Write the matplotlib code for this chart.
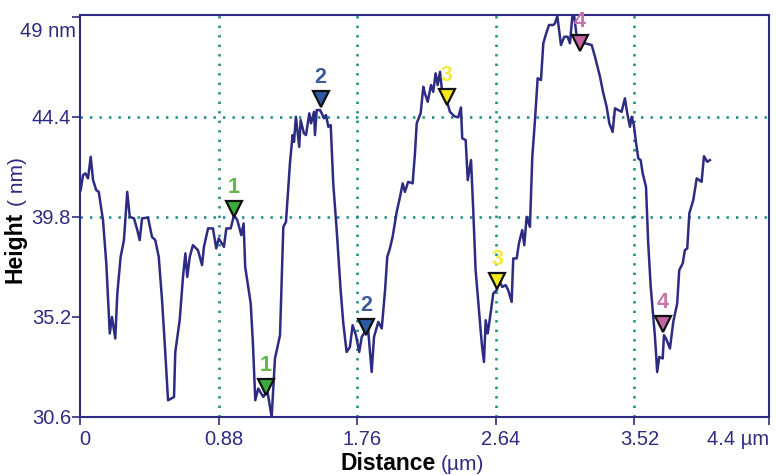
import matplotlib
matplotlib.use("Agg")
import matplotlib.pyplot as plt
import matplotlib.transforms as mtransforms

plt.rcParams['font.family'] = ['Liberation Sans', 'DejaVu Sans']

# height profile
x_um = [0.004, 0.019, 0.034, 0.051, 0.068, 0.083, 0.103, 0.119, 0.146, 0.167,
        0.189, 0.203, 0.224, 0.237, 0.258, 0.279, 0.300, 0.316, 0.343, 0.364,
        0.379, 0.394, 0.432, 0.457, 0.478, 0.500, 0.521, 0.538, 0.559, 0.580,
        0.597, 0.605, 0.633, 0.654, 0.669, 0.681, 0.697, 0.717, 0.749, 0.775,
        0.787, 0.813, 0.844, 0.865, 0.881, 0.914, 0.929, 0.957, 0.978, 0.999,
        1.024, 1.039, 1.049, 1.084, 1.098, 1.113, 1.132, 1.164, 1.189, 1.217,
        1.238, 1.270, 1.291, 1.308, 1.333, 1.350, 1.359, 1.371, 1.392, 1.401,
        1.422, 1.435, 1.456, 1.467, 1.486, 1.492, 1.503, 1.524, 1.535, 1.549,
        1.562, 1.577, 1.592, 1.608, 1.630, 1.655, 1.672, 1.693, 1.714, 1.731,
        1.752, 1.773, 1.789, 1.816, 1.830, 1.852, 1.867, 1.894, 1.916, 1.937,
        1.951, 1.968, 1.985, 2.011, 2.032, 2.049, 2.063, 2.084, 2.112, 2.127,
        2.138, 2.163, 2.180, 2.190, 2.208, 2.229, 2.243, 2.258, 2.271, 2.286,
        2.297, 2.322, 2.349, 2.376, 2.402, 2.419, 2.427, 2.449, 2.462, 2.483,
        2.497, 2.512, 2.533, 2.551, 2.565, 2.576, 2.589, 2.610, 2.624, 2.646,
        2.656, 2.681, 2.703, 2.719, 2.741, 2.751, 2.773, 2.787, 2.808, 2.821,
        2.836, 2.857, 2.872, 2.889, 2.906, 2.927, 2.942, 2.957, 2.978, 3.005,
        3.016, 3.031, 3.054, 3.075, 3.096, 3.111, 3.126, 3.138, 3.154, 3.175,
        3.206, 3.249, 3.270, 3.302, 3.323, 3.344, 3.361, 3.382, 3.397, 3.418,
        3.439, 3.460, 3.475, 3.492, 3.503, 3.517, 3.530, 3.545, 3.560, 3.573,
        3.594, 3.608, 3.624, 3.640, 3.651, 3.665, 3.678, 3.700, 3.708, 3.721,
        3.746, 3.767, 3.792, 3.805, 3.827, 3.841, 3.856, 3.869, 3.894, 3.916,
        3.947, 3.962, 3.983, 4.000]
h_nm = [41.03, 41.72, 41.80, 41.57, 42.56, 41.49, 41.03, 40.95, 39.65, 37.66,
        34.44, 35.20, 34.21, 36.28, 37.96, 38.73, 40.95, 39.80, 39.73, 39.19,
        38.73, 39.73, 39.77, 38.88, 38.73, 37.96, 35.97, 33.98, 31.37, 31.45,
        31.52, 33.59, 35.05, 37.04, 38.12, 37.04, 37.96, 38.50, 38.27, 37.58,
        38.42, 39.27, 39.27, 38.35, 38.81, 38.42, 39.27, 39.27, 39.88, 39.65,
        38.96, 39.50, 37.50, 35.82, 33.98, 31.37, 31.91, 31.52, 31.83, 30.60,
        33.29, 34.36, 39.34, 39.57, 42.26, 43.56, 43.25, 44.40, 43.02, 44.25,
        43.64, 43.56, 44.56, 44.10, 44.63, 43.56, 44.71, 44.71, 44.56, 44.33,
        44.48, 43.94, 44.02, 41.34, 39.19, 36.43, 34.90, 33.59, 33.82, 34.82,
        34.36, 33.59, 34.28, 34.59, 34.59, 32.67, 34.28, 34.97, 34.67, 36.43,
        37.96, 38.35, 38.88, 40.03, 40.72, 41.34, 40.95, 41.41, 41.34, 42.72,
        44.10, 44.56, 45.78, 45.48, 45.09, 45.86, 45.55, 46.40, 45.86, 46.47,
        45.71, 45.32, 44.63, 44.43, 44.37, 44.83, 43.41, 43.33, 41.49, 42.41,
        40.11, 37.35, 35.51, 33.98, 33.13, 35.05, 34.44, 35.51, 36.28, 36.43,
        36.97, 36.58, 36.66, 36.43, 35.89, 37.89, 37.89, 38.58, 39.19, 38.50,
        39.80, 39.34, 42.56, 44.25, 46.17, 46.09, 47.78, 48.16, 48.62, 48.62,
        48.70, 49.03, 47.70, 48.08, 48.08, 47.78, 49.00, 49.03, 48.08, 47.78,
        47.78, 47.70, 47.16, 46.24, 45.48, 44.86, 44.10, 43.71, 44.79, 44.71,
        44.63, 45.25, 44.56, 43.94, 44.40, 44.02, 43.25, 42.49, 42.41, 41.80,
        41.18, 38.58, 36.58, 35.20, 34.28, 32.67, 33.36, 33.29, 34.36, 34.21,
        33.75, 34.97, 35.82, 37.35, 37.66, 38.27, 38.35, 39.96, 40.57, 41.57,
        41.41, 42.59, 42.33, 42.41]

# cursor markers (pairs 1..4)
marker_x = [0.978, 1.181, 1.528, 1.816, 2.328, 2.650, 3.175, 3.700]
marker_y = [40.15, 31.99, 45.22, 34.75, 45.31, 36.87, 47.78, 34.87]
marker_ids = ['1', '1', '2', '2', '3', '3', '4', '4']
marker_fill = {'1': '#3cab3c', '2': '#2d5aa5', '3': '#f7e81a', '4': '#c463a3'}
marker_text = {'1': '#63b946', '2': '#3b5a9a', '3': '#f2ea3c', '4': '#c775a8'}

xticks = [0, 0.88, 1.76, 2.64, 3.52]
xtick_labels = ['0', '0.88', '1.76', '2.64', '3.52']
yticks = [30.6, 35.2, 39.8, 44.4, 49.0]
ytick_labels = ['30.6', '35.2', '39.8', '44.4', '']
grid_x = [0.88, 1.76, 2.64, 3.52]
grid_y = [39.8, 44.4]

navy = '#2e2c82'
teal = '#1f9088'

fig = plt.figure(figsize=(7.77, 4.75), dpi=100)
ax = fig.add_axes([80 / 777, 58 / 475, 689 / 777, 402 / 475])
ax.set_xlim(0, 4.375)
ax.set_ylim(30.6, 49.08)

for gx in grid_x:
    ax.axvline(gx, color=teal, lw=1.9, ls=(0, (0.9, 2.7)), zorder=1)
for gy in grid_y:
    ax.axhline(gy, color=teal, lw=1.9, ls=(0, (0.9, 2.7)), zorder=1)

ax.plot(x_um, h_nm, color=navy, lw=1.8, zorder=3)

for mx, my, mid in zip(marker_x, marker_y, marker_ids):
    ax.plot(mx, my, marker='v', ms=12, mfc=marker_fill[mid], mec='#111111',
            mew=1.6, zorder=4)
    ax.annotate(mid, (mx, my), xytext=(0, 15.5), textcoords='offset points',
                ha='center', va='center', fontsize=15.5, fontweight='bold',
                color=marker_text[mid], zorder=5, annotation_clip=False)

for s in ax.spines.values():
    s.set_color(navy)
    s.set_linewidth(1.5)

ax.set_xticks(xticks + [4.375])
ax.set_xticklabels(xtick_labels + ['4.4 \u00b5m'])
ax.set_yticks(yticks)
ax.set_yticklabels(ytick_labels)
ax.tick_params(axis='both', direction='out', length=5.5, width=1.2, color=navy,
               labelcolor=navy, labelsize=14.5)
ax.tick_params(axis='x', pad=4)
ax.tick_params(axis='y', pad=1)
ax.get_xticklabels()[-1].set_ha('right')

shift = mtransforms.ScaledTranslation(0.05, 0, fig.dpi_scale_trans)
for lab in ax.get_xticklabels()[:-1]:
    lab.set_transform(lab.get_transform() + shift)

ax.text(-0.006, 48.3, '49 nm', transform=ax.get_yaxis_transform(),
        ha='right', va='center', fontsize=14.5, color=navy)

# axis titles, bold word plus unit in navy
fig.canvas.draw()
r = fig.canvas.get_renderer()
t1 = fig.text(340 / 777, 5 / 475, 'Distance', fontsize=16.5, fontweight='bold',
              color='black', ha='left', va='baseline')
bb = t1.get_window_extent(r)
fig.text((bb.x1 + 6) / 777, 5 / 475, '(\u00b5m)', fontsize=15, color=navy,
         ha='left', va='baseline')

t2 = fig.text(27 / 777, (475 - 283) / 475, 'Height', fontsize=16.5,
              fontweight='bold', color='black', rotation=90, ha='right',
              va='bottom')
bb = t2.get_window_extent(r)
fig.text(27 / 777, (bb.y1 + 6) / 475, '( nm)', fontsize=15, color=navy,
         rotation=90, ha='right', va='bottom')

fig.savefig('out.png', dpi=100)
